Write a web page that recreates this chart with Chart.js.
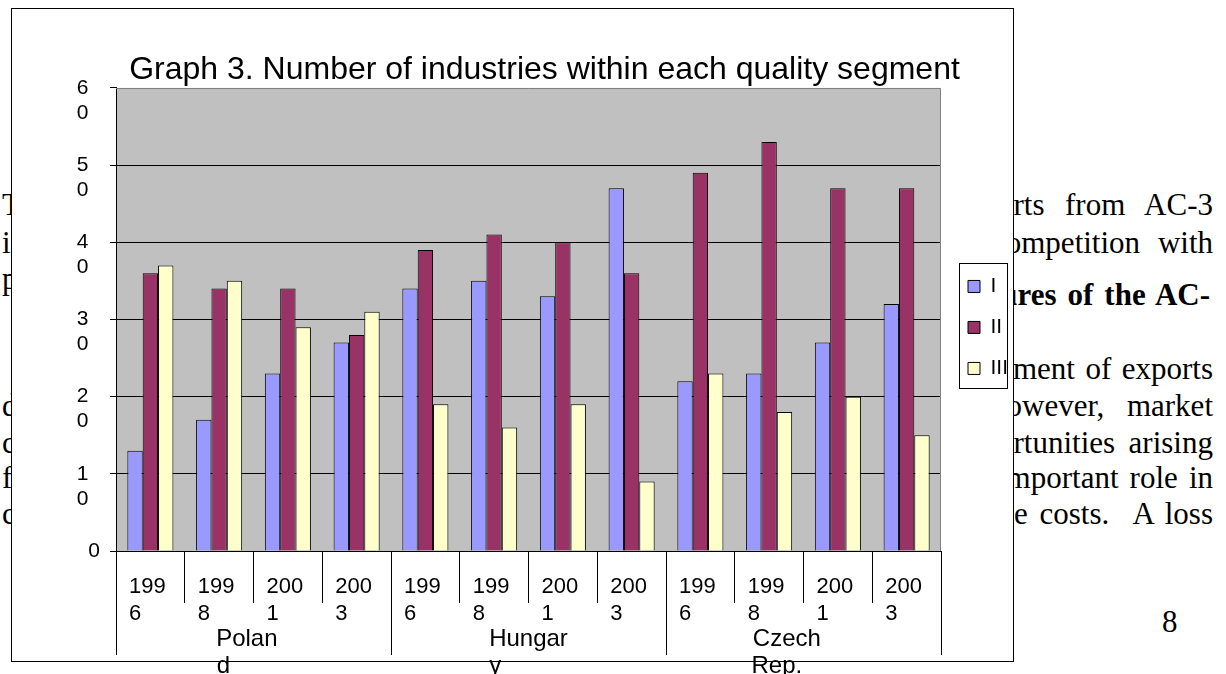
<!DOCTYPE html>
<html>
<head>
<meta charset="utf-8">
<title>Graph 3</title>
<script src="https://cdn.jsdelivr.net/npm/chart.js@4.4.1/dist/chart.umd.min.js"></script>
<style>
  html, body { margin: 0; padding: 0; background: #fff; }
  body { width: 1226px; height: 674px; position: relative; overflow: hidden; }
  .ln { position: absolute; font: 31px/36px 'Liberation Serif', 'Times New Roman', serif; color: #000;
        text-align: justify; text-align-last: justify; }
  .b { font-weight: bold; }
  #frame { position: absolute; left: 11px; top: 8px; width: 1003px; height: 654px; box-sizing: border-box;
           border: 1px solid #000; background: #fff; z-index: 1; }
  #chart { position: absolute; left: 12px; top: 9px; z-index: 2; }
</style>
</head>
<body>
<!-- page text running behind the chart frame -->
<div class="ln" style="left:2px;top:187px">T</div>
<div class="ln" style="left:2px;top:225px">i</div>
<div class="ln" style="left:2px;top:261px">p</div>
<div class="ln" style="left:2px;top:388px">d</div>
<div class="ln" style="left:2px;top:425px">c</div>
<div class="ln" style="left:2px;top:460px">f</div>
<div class="ln" style="left:2px;top:496px">c</div>

<div class="ln" style="left:998px;top:187px;width:215px">orts from AC-3</div>
<div class="ln" style="left:992px;top:225px;width:221px">competition with</div>
<div class="ln b" style="left:990px;top:277px;width:220px">tures of the AC-</div>
<div class="ln" style="left:1013px;top:351px;width:200px">ment of exports</div>
<div class="ln" style="left:991px;top:388px;width:222px">however, market</div>
<div class="ln" style="left:998px;top:425px;width:215px">ortunities arising</div>
<div class="ln" style="left:998px;top:460px;width:215px">important role in</div>
<div class="ln" style="left:990px;top:496px;width:223px">the costs. &nbsp;A loss</div>
<div class="ln" style="left:1162px;top:604px">8</div>

<div id="frame"></div>
<canvas id="chart" width="1001" height="665"></canvas>

<script>
// ---- data ----
const years = ['1996', '1998', '2001', '2003'];
const countries = ['Poland', 'Hungary', 'Czech Rep.'];
const yearTickLines = [['199', '6'], ['199', '8'], ['200', '1'], ['200', '3']];
const countryTickLines = [['Polan', 'd'], ['Hungar', 'y'], ['Czech', 'Rep.']];
const segmentNames = ['I', 'II', 'III'];
const segmentI   = [13, 17, 23, 27, 34, 35, 33, 47, 22, 23, 27, 32];
const segmentII  = [36, 34, 34, 28, 39, 41, 40, 36, 49, 53, 47, 47];
const segmentIII = [37, 35, 29, 31, 19, 16, 19,  9, 23, 18, 20, 15];
const yTickValues = [0, 10, 20, 30, 40, 50, 60];
const yTickLines = [['0'], ['1', '0'], ['2', '0'], ['3', '0'], ['4', '0'], ['5', '0'], ['6', '0']];
const chartTitle = 'Graph 3. Number of industries within each quality segment';

// ---- styling ----
const FONT = "'Liberation Sans', Arial, Helvetica, sans-serif";
const segmentColors = ['#9999FF', '#993366', '#FFFFCC'];
const plotFill = '#C0C0C0';
const plotEdge = '#808080';
const yearLabelWidth = 42;
const countryLabelWidths = [72, 78, 101];

Chart.defaults.font.family = FONT;
Chart.defaults.color = '#000';

const categories = countries.flatMap(c => years.map(y => c + ' ' + y));

// wrapped tick lines are padded with trailing spaces so each block reads left-aligned
const measureCtx = document.createElement('canvas').getContext('2d');
function padLine(text, px, width) {
  measureCtx.font = px + 'px ' + FONT;
  const sp = measureCtx.measureText(' ').width;
  let s = text;
  while (measureCtx.measureText(s + ' ').width <= width + sp / 2) s += ' ';
  return s;
}

const plotFrame = {
  id: 'plotFrame',
  beforeDraw(chart) {
    const { ctx, chartArea: a } = chart;
    ctx.save();
    ctx.fillStyle = plotFill;
    ctx.fillRect(a.left, a.top, a.right - a.left, a.bottom - a.top);
    ctx.restore();
  },
  afterDatasetsDraw(chart) {
    const { ctx, chartArea: a } = chart;
    const t = Math.round(a.top) + 0.5, r = Math.round(a.right) - 0.5;
    ctx.save();
    ctx.strokeStyle = plotEdge;
    ctx.lineWidth = 1;
    ctx.beginPath();
    ctx.moveTo(Math.round(a.left), t);
    ctx.lineTo(r, t);
    ctx.lineTo(r, Math.round(a.bottom));
    ctx.stroke();
    ctx.restore();
  },
  afterDraw(chart) {
    const hb = chart.legend && chart.legend.legendHitBoxes;
    if (!hb || !hb.length) return;
    const first = hb[0], last = hb[hb.length - 1];
    const x0 = Math.round(first.left - 9) + 0.5;
    const x1 = Math.round(first.left + 39) + 0.5;
    const y0 = Math.round(first.top - 13) + 0.5;
    const y1 = Math.round(last.top + 30) + 0.5;
    const ctx = chart.ctx;
    ctx.save();
    ctx.strokeStyle = '#000';
    ctx.lineWidth = 1;
    ctx.strokeRect(x0, y0, x1 - x0, y1 - y0);
    ctx.restore();
  }
};

new Chart(document.getElementById('chart'), {
  type: 'bar',
  data: {
    labels: categories,
    datasets: [segmentI, segmentII, segmentIII].map((values, k) => ({
      label: segmentNames[k],
      data: values,
      backgroundColor: segmentColors[k],
      borderColor: '#000',
      borderWidth: 1,
      categoryPercentage: 0.67,
      barPercentage: 1
    }))
  },
  options: {
    responsive: false,
    animation: false,
    devicePixelRatio: 1,
    layout: { padding: { left: 59, right: -5, top: 0, bottom: 0 } },
    plugins: {
      title: {
        display: true,
        text: chartTitle,
        color: '#000',
        font: { size: 32, weight: 'normal', lineHeight: 1.2 },
        padding: { top: 42, bottom: -1.5 }
      },
      legend: {
        position: 'right',
        fullSize: false,
        maxWidth: 70,
        align: 'center',
        title: { display: true, text: '', font: { size: 16, lineHeight: 1 }, padding: 0 },
        labels: { boxWidth: 12, boxHeight: 12, padding: 20, color: '#000', font: { size: 21 } }
      },
      tooltip: { enabled: false }
    },
    scales: {
      x: {
        type: 'category',
        offset: true,
        weight: 0,
        grid: { offset: true, drawOnChartArea: false, drawTicks: true, tickLength: 52,
                color: '#000', tickColor: '#000', lineWidth: 1 },
        border: { display: true, color: '#000', width: 1 },
        ticks: {
          autoSkip: false, maxRotation: 0, minRotation: 0, padding: -29.5, color: '#000',
          font: { size: 22, lineHeight: 1.23 },
          callback: (v, i) => yearTickLines[i % years.length].map(t => padLine(t, 22, yearLabelWidth))
        },
        afterFit: s => { s.height = 123; }
      },
      x2: {
        type: 'category',
        labels: countries,
        position: 'bottom',
        offset: true,
        weight: -1,
        grid: { offset: true, drawOnChartArea: false, drawTicks: true, tickLength: 104,
                color: '#000', tickColor: '#000', lineWidth: 1 },
        border: { display: false },
        ticks: {
          autoSkip: false, maxRotation: 0, minRotation: 0, mirror: true, padding: -101.5, color: '#000',
          font: { size: 24, lineHeight: 1.125 },
          callback: (v, i) => countryTickLines[i].map(t => padLine(t, 24, countryLabelWidths[i]))
        },
        afterFit: s => { s.height = 0; }
      },
      y: {
        position: 'left',
        min: yTickValues[0],
        max: yTickValues[yTickValues.length - 1],
        ticks: {
          autoSkip: false, stepSize: 10, padding: 10, color: '#000',
          font: { size: 21, lineHeight: 1.19 },
          callback: v => {
            const lines = yTickLines[yTickValues.indexOf(v)];
            if (!lines) return '';
            if (lines.length === 1) return lines[0];
            return [''].concat(lines.map(t => padLine(t, 21, 23.4)));
          }
        },
        grid: {
          tickLength: 6,
          lineWidth: 1,
          tickColor: '#000',
          color: c => (c.tick && (c.tick.value === 0 || c.tick.value === 60)) ? 'rgba(0,0,0,0)' : '#000'
        },
        border: { display: true, color: '#000', width: 1 },
        afterFit: s => { s.width = 45; }
      },
      y2: {
        position: 'right',
        display: true,
        grid: { display: false },
        ticks: { display: false },
        border: { display: false },
        afterFit: s => { s.width = 7; }
      }
    }
  },
  plugins: [plotFrame]
});
</script>
</body>
</html>
